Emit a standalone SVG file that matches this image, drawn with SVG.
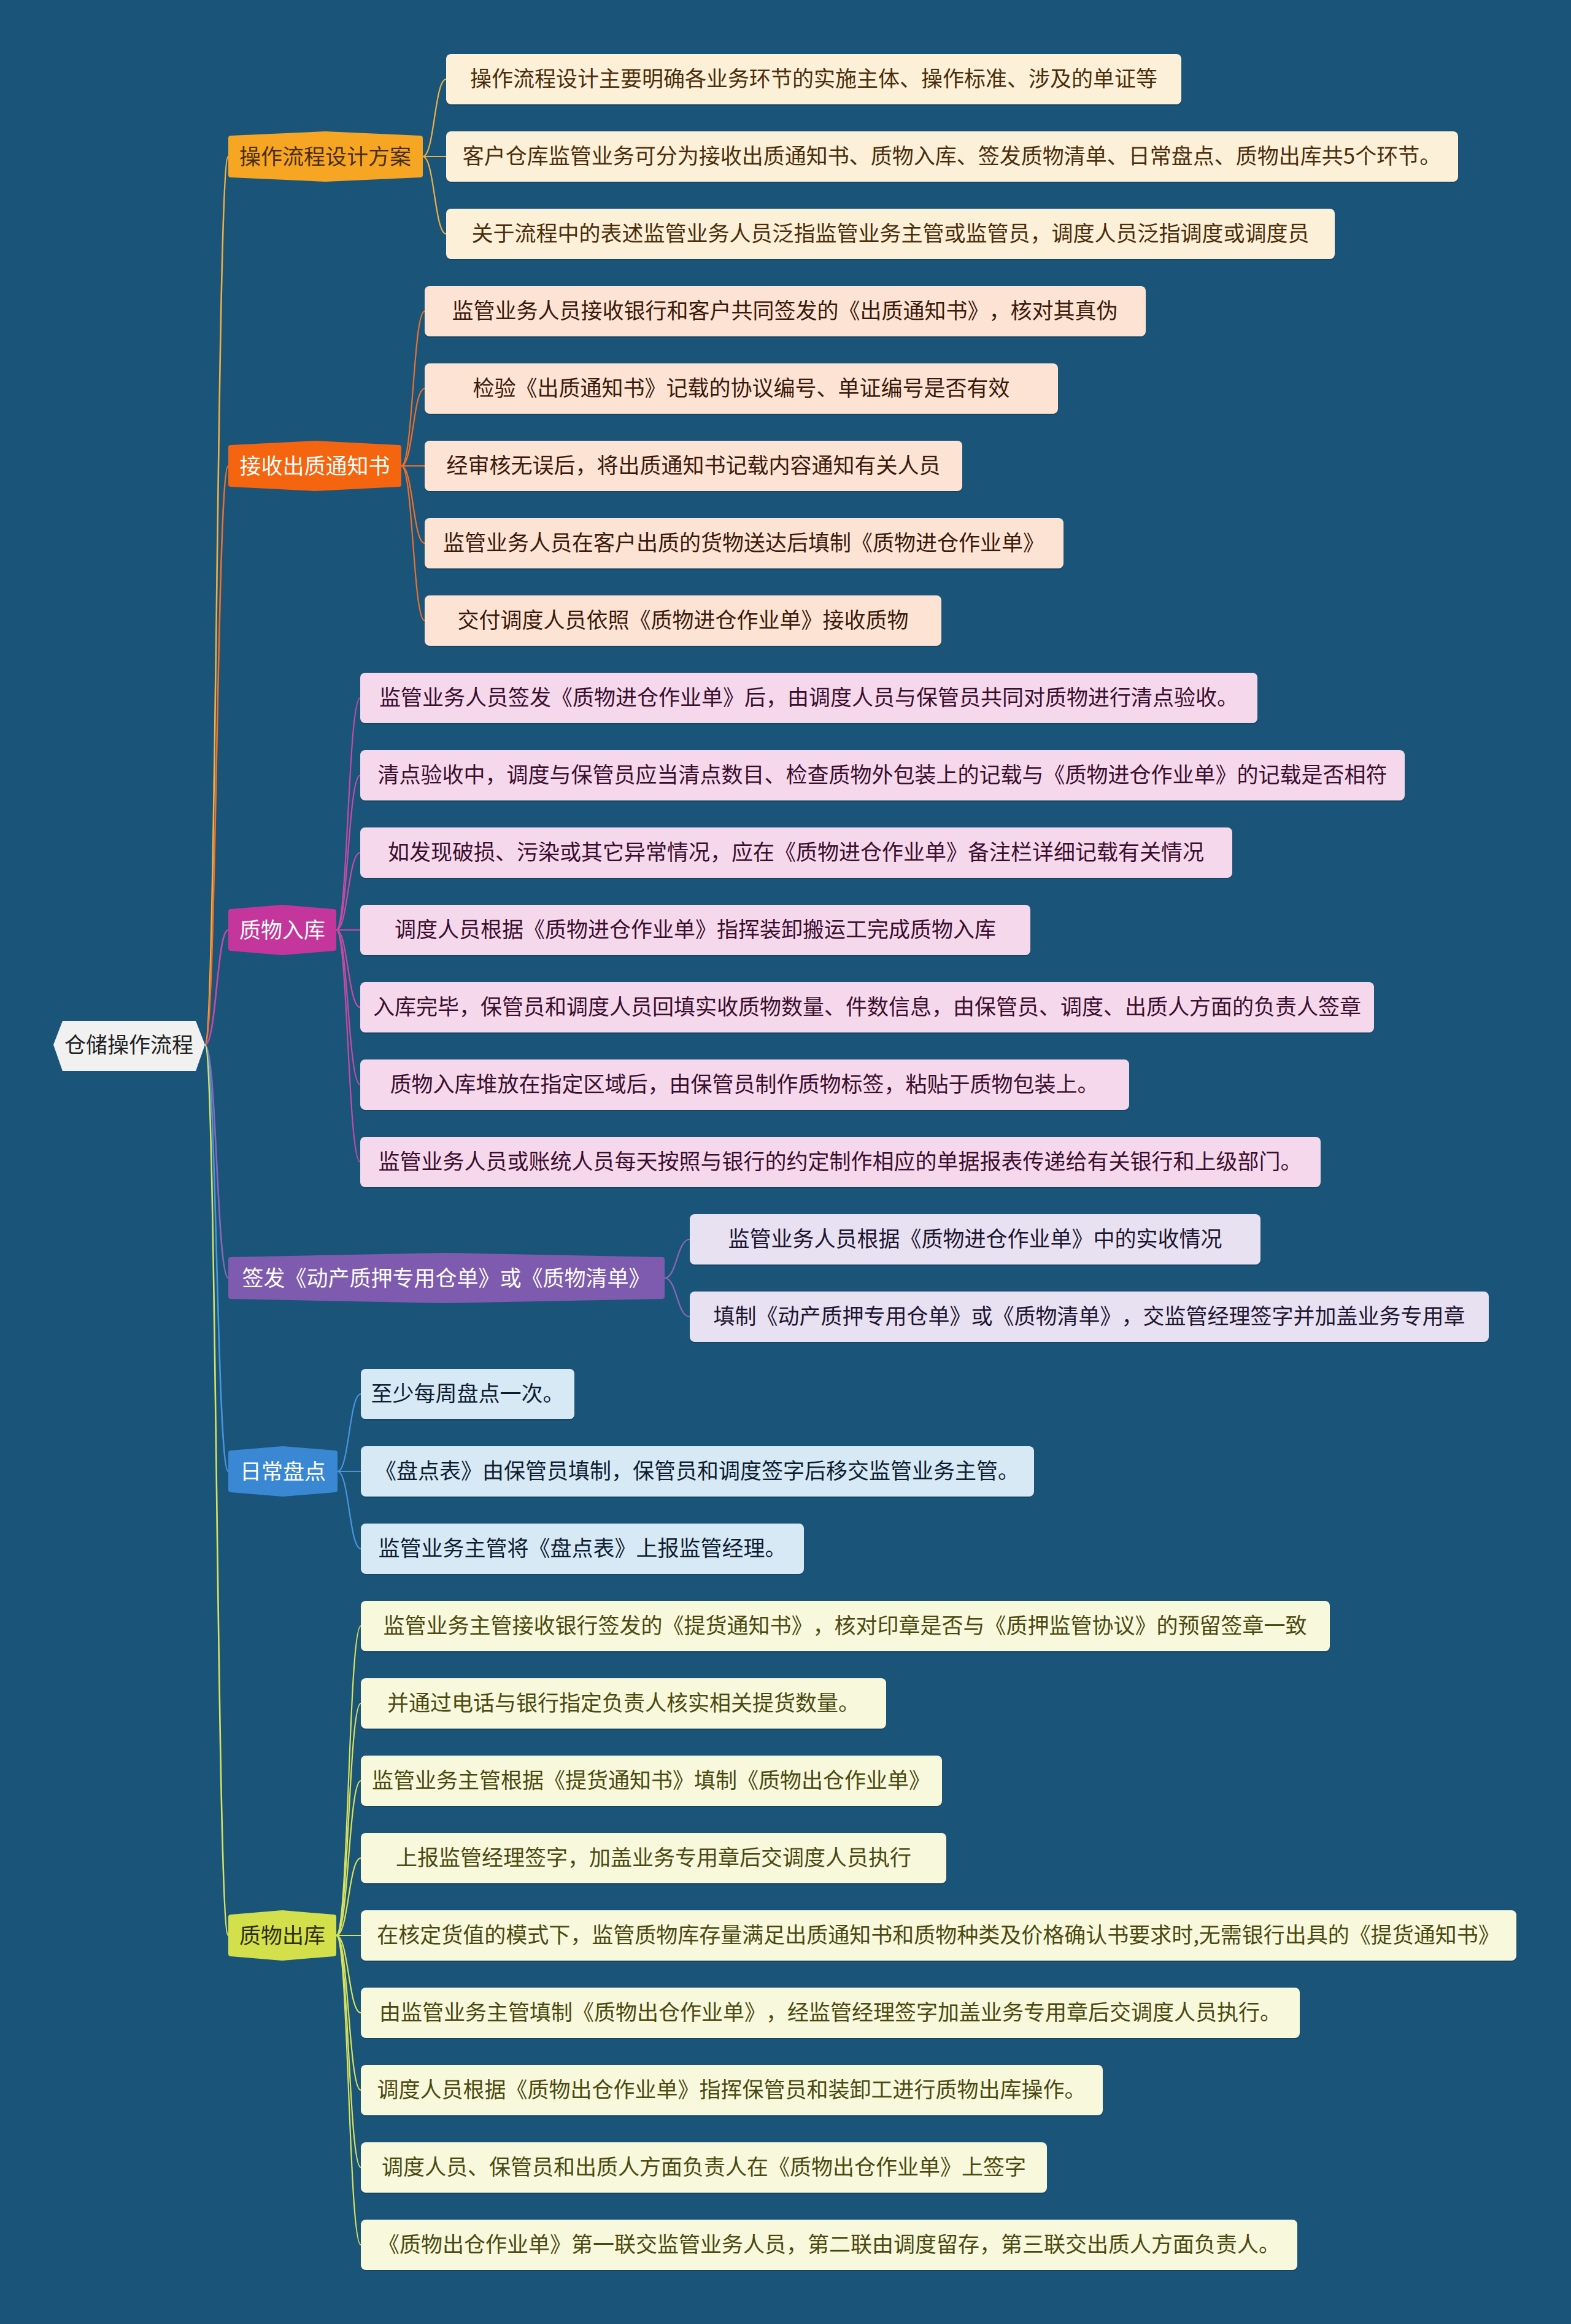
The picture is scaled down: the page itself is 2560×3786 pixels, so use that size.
<svg xmlns="http://www.w3.org/2000/svg" width="2560" height="3786" viewBox="0 0 2560 3786">
<style>
text{font-family:"Noto Sans CJK SC","Noto Sans",sans-serif;font-size:35px;text-anchor:middle;text-spacing-trim:space-all;font-kerning:none;font-feature-settings:"chws" 0,"halt" 0,"palt" 0}
.c{fill:none;stroke-width:2.2}
.rc{fill:none;stroke-width:2.6}
.sh{fill:#0d3550;opacity:.45}
.hx{stroke-width:8;stroke-linejoin:round}
.o1{fill:#f6a623;stroke:#f6a623}.s1{stroke:#f0b040}.l1{fill:#fdf0d8}.t1{fill:#4a2e0c}
.o2{fill:#f5640f;stroke:#f5640f}.s2{stroke:#f0702a}.l2{fill:#fde3d4}.t2{fill:#3a1a0a}
.o3{fill:#c4369b;stroke:#c4369b}.s3{stroke:#c84aa5}.l3{fill:#f5d8ec}.t3{fill:#3a0f2e}
.o4{fill:#7e5bae;stroke:#7e5bae}.s4{stroke:#8a68b8}.l4{fill:#e7e1f1}.t4{fill:#1e1530}
.o5{fill:#3a88d4;stroke:#3a88d4}.s5{stroke:#4a95dc}.l5{fill:#d8e9f6}.t5{fill:#0e1e30}
.o6{fill:#d3e04b;stroke:#d3e04b}.s6{stroke:#d8e35a}.l6{fill:#f8f8dd}.t6{fill:#4a4a10}
.w{fill:#ffffff}
</style>
<rect x="0" y="0" width="2560" height="3786" fill="#1b5479"/>
<g id="connectors">
<path class="rc s1" d="M334,1702 C353,1702 353,255 372,255"/>
<path class="rc s2" d="M334,1702 C353,1702 353,759 372,759"/>
<path class="rc s3" d="M334,1702 C353,1702 353,1515 372,1515"/>
<path class="rc s4" d="M334,1702 C353,1702 353,2082 372,2082"/>
<path class="rc s5" d="M334,1702 C353,1702 353,2397 372,2397"/>
<path class="rc s6" d="M334,1702 C353,1702 353,3153 372,3153"/>
<path class="c s1" d="M689,255 C708,255 708,129 727,129"/>
<path class="c s1" d="M689,255 L727,255"/>
<path class="c s1" d="M689,255 C708,255 708,381 727,381"/>
<path class="c s2" d="M654,759 C673,759 673,507 692,507"/>
<path class="c s2" d="M654,759 C673,759 673,633 692,633"/>
<path class="c s2" d="M654,759 L692,759"/>
<path class="c s2" d="M654,759 C673,759 673,885 692,885"/>
<path class="c s2" d="M654,759 C673,759 673,1011 692,1011"/>
<path class="c s3" d="M548,1515 C567,1515 567,1137 587,1137"/>
<path class="c s3" d="M548,1515 C567,1515 567,1263 587,1263"/>
<path class="c s3" d="M548,1515 C567,1515 567,1389 587,1389"/>
<path class="c s3" d="M548,1515 L587,1515"/>
<path class="c s3" d="M548,1515 C567,1515 567,1641 587,1641"/>
<path class="c s3" d="M548,1515 C567,1515 567,1767 587,1767"/>
<path class="c s3" d="M548,1515 C567,1515 567,1893 587,1893"/>
<path class="c s4" d="M1083,2082 C1103,2082 1103,2019 1124,2019"/>
<path class="c s4" d="M1083,2082 C1103,2082 1103,2145 1124,2145"/>
<path class="c s5" d="M550,2397 C569,2397 569,2271 588,2271"/>
<path class="c s5" d="M550,2397 L588,2397"/>
<path class="c s5" d="M550,2397 C569,2397 569,2523 588,2523"/>
<path class="c s6" d="M548,3153 C568,3153 568,2649 588,2649"/>
<path class="c s6" d="M548,3153 C568,3153 568,2775 588,2775"/>
<path class="c s6" d="M548,3153 C568,3153 568,2901 588,2901"/>
<path class="c s6" d="M548,3153 C568,3153 568,3027 588,3027"/>
<path class="c s6" d="M548,3153 L588,3153"/>
<path class="c s6" d="M548,3153 C568,3153 568,3279 588,3279"/>
<path class="c s6" d="M548,3153 C568,3153 568,3405 588,3405"/>
<path class="c s6" d="M548,3153 C568,3153 568,3531 588,3531"/>
<path class="c s6" d="M548,3153 C568,3153 568,3657 588,3657"/>
</g>

<g id="root">
<path d="M87,1702 L102,1663 L319,1663 L334,1702 L319,1745 L102,1745 Z" fill="#f0f1f0"/>
<text x="210" y="1715" fill="#222222">仓储操作流程</text>
</g>

<g id="b1">
<path class="hx o1" d="M376,225 L530,218 L685,225 L685,285 L530,292 L376,285 Z"/>
<text class="t1" x="530" y="268">操作流程设计方案</text>
</g>
<g id="b2">
<path class="hx o2" d="M376,729 L513,722 L650,729 L650,789 L513,796 L376,789 Z"/>
<text class="w" x="513" y="772">接收出质通知书</text>
</g>
<g id="b3">
<path class="hx o3" d="M376,1485 L460,1478 L544,1485 L544,1545 L460,1552 L376,1545 Z"/>
<text class="w" x="460" y="1528">质物入库</text>
</g>
<g id="b4">
<path class="hx o4" d="M376,2052 L727,2045 L1079,2052 L1079,2112 L727,2119 L376,2112 Z"/>
<text class="w" x="727" y="2095">签发《动产质押专用仓单》或《质物清单》</text>
</g>
<g id="b5">
<path class="hx o5" d="M376,2367 L461,2360 L546,2367 L546,2427 L461,2434 L376,2427 Z"/>
<text class="w" x="461" y="2410">日常盘点</text>
</g>
<g id="b6">
<path class="hx o6" d="M376,3123 L460,3116 L544,3123 L544,3183 L460,3190 L376,3183 Z"/>
<text x="460" y="3166" fill="#2e2e0a">质物出库</text>
</g>

<g id="b1-l1"><rect class="sh" x="727" y="90" width="1198" height="82" rx="8"/><rect class="l1" x="727" y="88" width="1198" height="82" rx="8"/><text class="t1" x="1326" y="141">操作流程设计主要明确各业务环节的实施主体、操作标准、涉及的单证等</text></g>
<g id="b1-l2"><rect class="sh" x="727" y="216" width="1649" height="82" rx="8"/><rect class="l1" x="727" y="214" width="1649" height="82" rx="8"/><text class="t1" x="1551" y="267">客户仓库监管业务可分为接收出质通知书、质物入库、签发质物清单、日常盘点、质物出库共5个环节。</text></g>
<g id="b1-l3"><rect class="sh" x="727" y="342" width="1448" height="82" rx="8"/><rect class="l1" x="727" y="340" width="1448" height="82" rx="8"/><text class="t1" x="1451" y="393">关于流程中的表述监管业务人员泛指监管业务主管或监管员，调度人员泛指调度或调度员</text></g>

<g id="b2-l1"><rect class="sh" x="692" y="468" width="1175" height="82" rx="8"/><rect class="l2" x="692" y="466" width="1175" height="82" rx="8"/><text class="t2" x="1279" y="519">监管业务人员接收银行和客户共同签发的《出质通知书》，核对其真伪</text></g>
<g id="b2-l2"><rect class="sh" x="692" y="594" width="1032" height="82" rx="8"/><rect class="l2" x="692" y="592" width="1032" height="82" rx="8"/><text class="t2" x="1208" y="645">检验《出质通知书》记载的协议编号、单证编号是否有效</text></g>
<g id="b2-l3"><rect class="sh" x="692" y="720" width="876" height="82" rx="8"/><rect class="l2" x="692" y="718" width="876" height="82" rx="8"/><text class="t2" x="1130" y="771">经审核无误后，将出质通知书记载内容通知有关人员</text></g>
<g id="b2-l4"><rect class="sh" x="692" y="846" width="1041" height="82" rx="8"/><rect class="l2" x="692" y="844" width="1041" height="82" rx="8"/><text class="t2" x="1212" y="897">监管业务人员在客户出质的货物送达后填制《质物进仓作业单》</text></g>
<g id="b2-l5"><rect class="sh" x="692" y="972" width="842" height="82" rx="8"/><rect class="l2" x="692" y="970" width="842" height="82" rx="8"/><text class="t2" x="1113" y="1023">交付调度人员依照《质物进仓作业单》接收质物</text></g>

<g id="b3-l1"><rect class="sh" x="587" y="1098" width="1462" height="82" rx="8"/><rect class="l3" x="587" y="1096" width="1462" height="82" rx="8"/><text class="t3" x="1318" y="1149">监管业务人员签发《质物进仓作业单》后，由调度人员与保管员共同对质物进行清点验收。</text></g>
<g id="b3-l2"><rect class="sh" x="587" y="1224" width="1702" height="82" rx="8"/><rect class="l3" x="587" y="1222" width="1702" height="82" rx="8"/><text class="t3" x="1438" y="1275">清点验收中，调度与保管员应当清点数目、检查质物外包装上的记载与《质物进仓作业单》的记载是否相符</text></g>
<g id="b3-l3"><rect class="sh" x="587" y="1350" width="1421" height="82" rx="8"/><rect class="l3" x="587" y="1348" width="1421" height="82" rx="8"/><text class="t3" x="1297" y="1401">如发现破损、污染或其它异常情况，应在《质物进仓作业单》备注栏详细记载有关情况</text></g>
<g id="b3-l4"><rect class="sh" x="587" y="1476" width="1092" height="82" rx="8"/><rect class="l3" x="587" y="1474" width="1092" height="82" rx="8"/><text class="t3" x="1133" y="1527">调度人员根据《质物进仓作业单》指挥装卸搬运工完成质物入库</text></g>
<g id="b3-l5"><rect class="sh" x="587" y="1602" width="1652" height="82" rx="8"/><rect class="l3" x="587" y="1600" width="1652" height="82" rx="8"/><text class="t3" x="1413" y="1653">入库完毕，保管员和调度人员回填实收质物数量、件数信息，由保管员、调度、出质人方面的负责人签章</text></g>
<g id="b3-l6"><rect class="sh" x="587" y="1728" width="1253" height="82" rx="8"/><rect class="l3" x="587" y="1726" width="1253" height="82" rx="8"/><text class="t3" x="1213" y="1779">质物入库堆放在指定区域后，由保管员制作质物标签，粘贴于质物包装上。</text></g>
<g id="b3-l7"><rect class="sh" x="587" y="1854" width="1565" height="82" rx="8"/><rect class="l3" x="587" y="1852" width="1565" height="82" rx="8"/><text class="t3" x="1369" y="1905">监管业务人员或账统人员每天按照与银行的约定制作相应的单据报表传递给有关银行和上级部门。</text></g>

<g id="b4-l1"><rect class="sh" x="1124" y="1980" width="930" height="82" rx="8"/><rect class="l4" x="1124" y="1978" width="930" height="82" rx="8"/><text class="t4" x="1589" y="2031">监管业务人员根据《质物进仓作业单》中的实收情况</text></g>
<g id="b4-l2"><rect class="sh" x="1124" y="2106" width="1302" height="82" rx="8"/><rect class="l4" x="1124" y="2104" width="1302" height="82" rx="8"/><text class="t4" x="1775" y="2157">填制《动产质押专用仓单》或《质物清单》，交监管经理签字并加盖业务专用章</text></g>

<g id="b5-l1"><rect class="sh" x="588" y="2232" width="348" height="82" rx="8"/><rect class="l5" x="588" y="2230" width="348" height="82" rx="8"/><text class="t5" x="762" y="2283">至少每周盘点一次。</text></g>
<g id="b5-l2"><rect class="sh" x="588" y="2358" width="1097" height="82" rx="8"/><rect class="l5" x="588" y="2356" width="1097" height="82" rx="8"/><text class="t5" x="1136" y="2409">《盘点表》由保管员填制，保管员和调度签字后移交监管业务主管。</text></g>
<g id="b5-l3"><rect class="sh" x="588" y="2484" width="722" height="82" rx="8"/><rect class="l5" x="588" y="2482" width="722" height="82" rx="8"/><text class="t5" x="949" y="2535">监管业务主管将《盘点表》上报监管经理。</text></g>

<g id="b6-l1"><rect class="sh" x="588" y="2610" width="1579" height="82" rx="8"/><rect class="l6" x="588" y="2608" width="1579" height="82" rx="8"/><text class="t6" x="1377" y="2661">监管业务主管接收银行签发的《提货通知书》，核对印章是否与《质押监管协议》的预留签章一致</text></g>
<g id="b6-l2"><rect class="sh" x="588" y="2736" width="856" height="82" rx="8"/><rect class="l6" x="588" y="2734" width="856" height="82" rx="8"/><text class="t6" x="1016" y="2787">并通过电话与银行指定负责人核实相关提货数量。</text></g>
<g id="b6-l3"><rect class="sh" x="588" y="2862" width="947" height="82" rx="8"/><rect class="l6" x="588" y="2860" width="947" height="82" rx="8"/><text class="t6" x="1061" y="2913">监管业务主管根据《提货通知书》填制《质物出仓作业单》</text></g>
<g id="b6-l4"><rect class="sh" x="588" y="2988" width="954" height="82" rx="8"/><rect class="l6" x="588" y="2986" width="954" height="82" rx="8"/><text class="t6" x="1065" y="3039">上报监管经理签字，加盖业务专用章后交调度人员执行</text></g>
<g id="b6-l5"><rect class="sh" x="588" y="3114" width="1883" height="82" rx="8"/><rect class="l6" x="588" y="3112" width="1883" height="82" rx="8"/><text class="t6" x="1529" y="3165">在核定货值的模式下，监管质物库存量满足出质通知书和质物种类及价格确认书要求时,无需银行出具的《提货通知书》</text></g>
<g id="b6-l6"><rect class="sh" x="588" y="3240" width="1530" height="82" rx="8"/><rect class="l6" x="588" y="3238" width="1530" height="82" rx="8"/><text class="t6" x="1353" y="3291">由监管业务主管填制《质物出仓作业单》，经监管经理签字加盖业务专用章后交调度人员执行。</text></g>
<g id="b6-l7"><rect class="sh" x="588" y="3366" width="1209" height="82" rx="8"/><rect class="l6" x="588" y="3364" width="1209" height="82" rx="8"/><text class="t6" x="1192" y="3417">调度人员根据《质物出仓作业单》指挥保管员和装卸工进行质物出库操作。</text></g>
<g id="b6-l8"><rect class="sh" x="588" y="3492" width="1118" height="82" rx="8"/><rect class="l6" x="588" y="3490" width="1118" height="82" rx="8"/><text class="t6" x="1147" y="3543">调度人员、保管员和出质人方面负责人在《质物出仓作业单》上签字</text></g>
<g id="b6-l9"><rect class="sh" x="588" y="3618" width="1526" height="82" rx="8"/><rect class="l6" x="588" y="3616" width="1526" height="82" rx="8"/><text class="t6" x="1351" y="3669">《质物出仓作业单》第一联交监管业务人员，第二联由调度留存，第三联交出质人方面负责人。</text></g>
</svg>
